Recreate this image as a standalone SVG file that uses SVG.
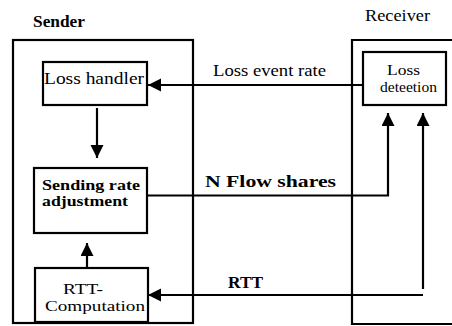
<svg xmlns="http://www.w3.org/2000/svg" width="452" height="326" viewBox="0 0 452 326">
<style>
.box{fill:none;stroke:#000;stroke-width:2.2}
.ln{fill:none;stroke:#000;stroke-width:2.2}
.t{font-family:"Liberation Serif","Times New Roman",serif;font-size:16px;fill:#000}
.s{font-size:15px}
.b{font-weight:bold}
</style>
<defs>
<marker id="ah" markerWidth="14" markerHeight="14" refX="13" refY="6.5" orient="auto" markerUnits="userSpaceOnUse">
<path d="M0,0 L13,6.5 L0,13 Z" fill="#000"/>
</marker>
</defs>
<rect width="452" height="326" fill="#fff"/>
<g id="sender">
<rect class="box" x="13" y="40" width="180" height="283"/>
<text class="t b" x="33" y="27" textLength="52" lengthAdjust="spacingAndGlyphs">Sender</text>
</g>
<g id="receiver">
<path class="box" d="M460,40 H352 V324 H460"/>
<text class="t" x="365" y="21" textLength="65" lengthAdjust="spacingAndGlyphs">Receiver</text>
</g>
<g id="loss-handler">
<rect class="box" x="43" y="62" width="104" height="43"/>
<text class="t" x="44" y="84" textLength="100" lengthAdjust="spacingAndGlyphs">Loss handler</text>
</g>
<g id="loss-detection">
<rect class="box" x="363" y="52" width="83" height="53"/>
<text class="t s" x="387" y="75" textLength="33" lengthAdjust="spacingAndGlyphs">Loss</text>
<text class="t s" x="380" y="92" textLength="57" lengthAdjust="spacingAndGlyphs">deteetion</text>
</g>
<g id="sending-rate">
<rect class="box" x="34" y="168" width="113" height="65"/>
<text class="t s b" x="42" y="190" textLength="98" lengthAdjust="spacingAndGlyphs">Sending rate</text>
<text class="t s b" x="42" y="206" textLength="86" lengthAdjust="spacingAndGlyphs">adjustment</text>
</g>
<g id="rtt-computation">
<rect class="box" x="35" y="268" width="113" height="54"/>
<text class="t s" x="63" y="294" textLength="40" lengthAdjust="spacingAndGlyphs">RTT-</text>
<text class="t s" x="45" y="311" textLength="100" lengthAdjust="spacingAndGlyphs">Computation</text>
</g>
<g id="connectors">
<line class="ln" x1="363" y1="85" x2="148" y2="85" marker-end="url(#ah)"/>
<line class="ln" x1="97" y1="108" x2="97" y2="158" marker-end="url(#ah)"/>
<line class="ln" x1="87" y1="268" x2="87" y2="243" marker-end="url(#ah)"/>
<polyline class="ln" points="147,195.5 388,195.5 388,113" marker-end="url(#ah)"/>
<line class="ln" x1="423" y1="289" x2="423" y2="113" marker-end="url(#ah)"/>
<line class="ln" x1="423" y1="295" x2="148" y2="295" marker-end="url(#ah)"/>
<text class="t" x="213" y="76" textLength="113" lengthAdjust="spacingAndGlyphs">Loss event rate</text>
<text class="t b" x="205" y="187" textLength="131" lengthAdjust="spacingAndGlyphs">N Flow shares</text>
<text class="t b" x="228" y="288" textLength="35" lengthAdjust="spacingAndGlyphs">RTT</text>
</g>
</svg>
